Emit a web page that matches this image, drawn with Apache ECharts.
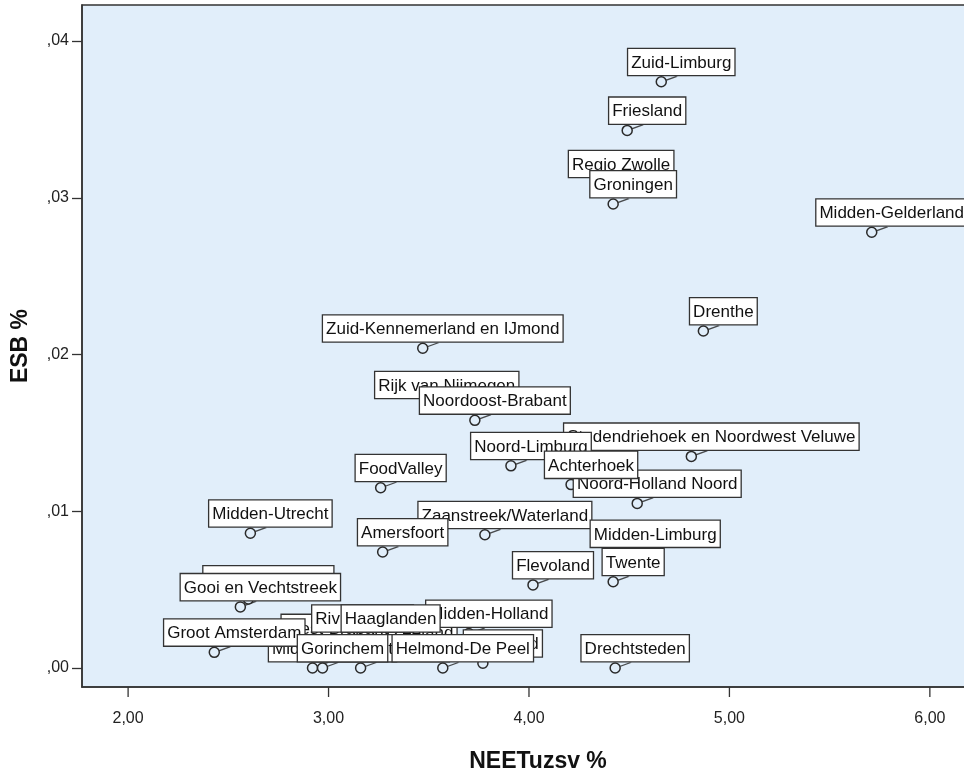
<!DOCTYPE html>
<html>
<head>
<meta charset="utf-8">
<script src="https://cdn.jsdelivr.net/npm/echarts@6/dist/echarts.min.js"></script>
<style>
html,body{margin:0;padding:0;background:#fff;}
#chart{width:964px;height:774px;}
</style>
</head>
<body>
<div id="chart"></div>
<script>
// Region names (hidden/overlapped ones first so visible labels lie on top)
const regions = [
  'Holland Rijnland','West-Brabant','Zuidoost-Brabant','Zeeland','Rijnmond',
  'Midden-Brabant','Midden-Holland','Rivierenland','Regio Zwolle','Rijk van Nijmegen',
  'Stedendriehoek en Noordwest Veluwe','Noord-Holland Noord','Zaanstreek/Waterland','Midden-Limburg','Noord-Limburg',
  'Achterhoek','Noordoost-Brabant','Groningen','Amersfoort','Twente',
  'Gooi en Vechtstreek','Groot Amsterdam','Haaglanden','Gorinchem','Helmond-De Peel',
  'Drechtsteden','Flevoland','FoodValley','Midden-Utrecht','Zuid-Kennemerland en IJmond',
  'Drenthe','Midden-Gelderland','Friesland','Zuid-Limburg'
];
// NEETuzsv %
const neet = [
  2.60, 2.94, 3.16, 3.37, 3.77,
  2.92, 3.70, 3.07, 4.36, 3.49,
  4.81, 4.54, 3.78, 4.53, 3.91,
  4.21, 3.73, 4.42, 3.27, 4.42,
  2.56, 2.43, 3.21, 2.97, 3.57,
  4.43, 4.02, 3.26, 2.61, 3.47,
  4.87, 5.71, 4.49, 4.66
];
// ESB %
const esb = [
  0.0044, 0.0013, 0.0000, 0.0010, 0.0003,
  0.0000, 0.0022, 0.0019, 0.0309, 0.0168,
  0.0135, 0.0105, 0.0085, 0.0073, 0.0129,
  0.0117, 0.0158, 0.0296, 0.0074, 0.0055,
  0.0039, 0.0010, 0.0019, 0.0000, 0.0000,
  0.0000, 0.0053, 0.0115, 0.0086, 0.0204,
  0.0215, 0.0278, 0.0343, 0.0374
];
// Axis ticks
const xTickValues = [2, 3, 4, 5, 6];
const xTickLabels = ['2,00', '3,00', '4,00', '5,00', '6,00'];
const yTickValues = [0, 0.01, 0.02, 0.03, 0.04];
const yTickLabels = [',00', ',01', ',02', ',03', ',04'];

function tickLabel(values, labels) {
  return function (v) {
    const i = values.findIndex(t => Math.abs(t - v) < 1e-9);
    return i >= 0 ? labels[i] : '';
  };
}

const points = regions.map((r, i) => ({ name: r, value: [neet[i], esb[i]] }));

const BG = '#E1EEFA';
const INK = '#333333';
const FONT = "'Liberation Sans', Arial, sans-serif";
const X_MIN = 1.77, X_MAX = 6.32, Y_MIN = -0.001212, Y_MAX = 0.0423;

const chart = echarts.init(document.getElementById('chart'), null, { renderer: 'canvas' });
chart.setOption({
  animation: false,
  backgroundColor: '#ffffff',
  grid: {
    left: 82, top: 5, right: -30, bottom: 87,
    show: true, backgroundColor: BG, borderColor: INK, borderWidth: 1.5,
    containLabel: false, outerBoundsMode: 'none'
  },
  xAxis: {
    type: 'value', min: X_MIN, max: X_MAX,
    name: 'NEETuzsv %', nameLocation: 'middle', nameGap: 63,
    nameTextStyle: { fontFamily: FONT, fontSize: 23, fontWeight: 'bold', color: '#111' },
    axisLine: { show: true, onZero: false, lineStyle: { color: INK, width: 1.5 } },
    axisTick: { show: false },
    axisLabel: { customValues: xTickValues, formatter: tickLabel(xTickValues, xTickLabels),
      fontFamily: FONT, fontSize: 16, color: '#222', margin: 24 },
    splitLine: { show: false }
  },
  yAxis: {
    type: 'value', min: Y_MIN, max: Y_MAX,
    name: 'ESB %', nameLocation: 'middle', nameGap: 50, nameRotate: 90,
    nameTextStyle: { fontFamily: FONT, fontSize: 23, fontWeight: 'bold', color: '#111' },
    axisLine: { show: true, onZero: false, lineStyle: { color: INK, width: 1.5 } },
    axisTick: { show: true, length: 10, lineStyle: { color: INK, width: 1.3 }, customValues: yTickValues },
    axisLabel: { customValues: yTickValues, formatter: tickLabel(yTickValues, yTickLabels),
      fontFamily: FONT, fontSize: 16, color: '#222', margin: 13 },
    splitLine: { show: false }
  },
  series: [
    {
      type: 'scatter',
      data: points,
      symbol: 'path://M0,10L30,0',
      symbolSize: [11, 4],
      symbolOffset: [10, -3.5],
      itemStyle: { color: 'transparent', borderColor: '#222', borderWidth: 1.7 },
      silent: true,
      emphasis: { disabled: true },
      z: 2
    },
    {
      type: 'scatter',
      data: points,
      symbol: 'circle',
      symbolSize: 10,
      itemStyle: { color: BG, borderColor: '#2a2a2a', borderWidth: 1.5, opacity: 1 },
      emphasis: { disabled: true },
      label: {
        show: true,
        position: 'top',
        distance: 1,
        formatter: '{b}',
        fontFamily: FONT,
        fontSize: 17,
        lineHeight: 20,
        color: '#111',
        backgroundColor: '#ffffff',
        borderColor: INK,
        borderWidth: 1.3,
        padding: [4, 3, 2, 3]
      },
      labelLayout: { dx: 20, hideOverlap: false },
      labelLine: { show: false },
      z: 3
    }
  ]
});

// x-axis tick marks placed through the axis scale (outside, below the plot frame)
const yBottom = chart.convertToPixel({ yAxisIndex: 0 }, Y_MIN);
chart.setOption({
  graphic: xTickValues.map(v => {
    const px = chart.convertToPixel({ xAxisIndex: 0 }, v);
    return {
      type: 'line', silent: true, z: 10,
      shape: { x1: px, y1: yBottom, x2: px, y2: yBottom + 10 },
      style: { stroke: INK, lineWidth: 1.3 }
    };
  })
});
</script>
</body>
</html>
